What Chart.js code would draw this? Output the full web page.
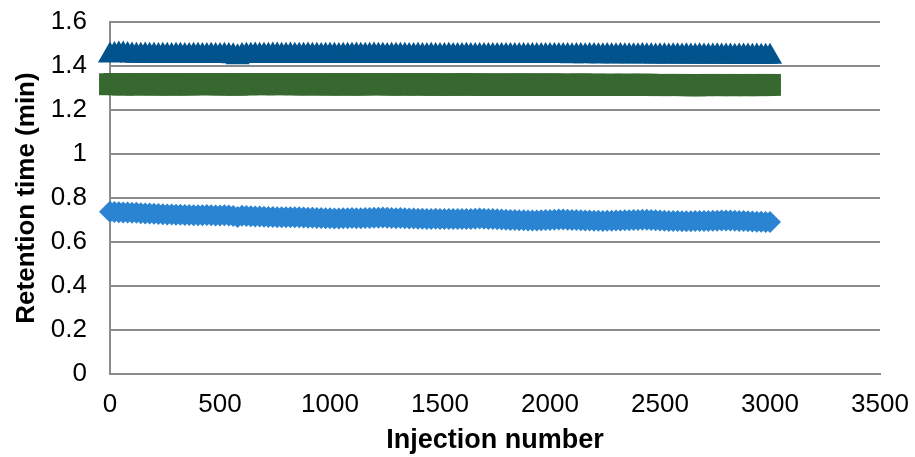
<!DOCTYPE html>
<html>
<head>
<meta charset="utf-8">
<script src="https://cdn.jsdelivr.net/npm/chart.js@4/dist/chart.umd.min.js"></script>
<style>
    body { margin: 0; background: #fff; }
    #chart { display: block; }
</style>
</head>
<body>
<canvas id="chart" width="915" height="457"></canvas>
<script>
// injection numbers, one sample every 20 injections
var injectionStep = 20;
var injections = [];
for (let i = 0; i <= 3000; i += injectionStep) {
    injections.push(i);
}

// retention times (min), one row = 200 injections
var peakTriangle = [
    1.448, 1.450, 1.452, 1.452, 1.450, 1.448, 1.447, 1.447, 1.448, 1.447,
    1.447, 1.446, 1.447, 1.447, 1.446, 1.447, 1.447, 1.446, 1.446, 1.447,
    1.447, 1.446, 1.446, 1.447, 1.446, 1.446, 1.447, 1.446, 1.444, 1.440,
    1.446, 1.447, 1.447, 1.448, 1.447, 1.447, 1.447, 1.448, 1.448, 1.447,
    1.447, 1.448, 1.447, 1.447, 1.447, 1.448, 1.447, 1.447, 1.446, 1.447,
    1.447, 1.447, 1.446, 1.447, 1.447, 1.447, 1.448, 1.447, 1.447, 1.447,
    1.448, 1.447, 1.447, 1.446, 1.447, 1.447, 1.447, 1.447, 1.446, 1.446,
    1.447, 1.446, 1.446, 1.447, 1.446, 1.446, 1.446, 1.447, 1.446, 1.446,
    1.446, 1.447, 1.446, 1.446, 1.445, 1.446, 1.446, 1.446, 1.445, 1.446,
    1.446, 1.445, 1.445, 1.446, 1.445, 1.445, 1.446, 1.445, 1.445, 1.445,
    1.445, 1.446, 1.445, 1.445, 1.445, 1.444, 1.445, 1.445, 1.444, 1.445,
    1.445, 1.444, 1.444, 1.445, 1.444, 1.444, 1.445, 1.444, 1.444, 1.444,
    1.444, 1.445, 1.444, 1.444, 1.443, 1.444, 1.444, 1.443, 1.444, 1.444,
    1.443, 1.444, 1.443, 1.443, 1.444, 1.443, 1.443, 1.443, 1.444, 1.443,
    1.443, 1.443, 1.442, 1.443, 1.443, 1.443, 1.442, 1.443, 1.442, 1.442,
    1.442
];

var peakSquare = [
    1.317, 1.318, 1.317, 1.316, 1.317, 1.317, 1.316, 1.317, 1.318, 1.317,
    1.316, 1.316, 1.317, 1.317, 1.316, 1.316, 1.317, 1.317, 1.316, 1.317,
    1.317, 1.318, 1.318, 1.317, 1.317, 1.316, 1.317, 1.317, 1.316, 1.315,
    1.317, 1.317, 1.318, 1.318, 1.317, 1.317, 1.318, 1.318, 1.317, 1.317,
    1.318, 1.318, 1.317, 1.317, 1.316, 1.317, 1.317, 1.318, 1.317, 1.316,
    1.316, 1.317, 1.317, 1.316, 1.316, 1.317, 1.317, 1.316, 1.316, 1.317,
    1.318, 1.318, 1.317, 1.316, 1.316, 1.317, 1.316, 1.316, 1.317, 1.317,
    1.316, 1.316, 1.317, 1.316, 1.315, 1.316, 1.316, 1.316, 1.315, 1.316,
    1.316, 1.317, 1.316, 1.316, 1.315, 1.315, 1.316, 1.316, 1.315, 1.315,
    1.315, 1.316, 1.316, 1.315, 1.315, 1.316, 1.316, 1.315, 1.315, 1.315,
    1.316, 1.316, 1.315, 1.315, 1.314, 1.315, 1.315, 1.316, 1.315, 1.315,
    1.315, 1.314, 1.314, 1.315, 1.315, 1.314, 1.314, 1.315, 1.315, 1.314,
    1.314, 1.315, 1.315, 1.314, 1.314, 1.313, 1.314, 1.314, 1.313, 1.314,
    1.314, 1.313, 1.313, 1.312, 1.313, 1.313, 1.314, 1.314, 1.313, 1.313,
    1.314, 1.313, 1.313, 1.314, 1.313, 1.313, 1.314, 1.313, 1.313, 1.314,
    1.314
];

var peakDiamond = [
    0.738, 0.736, 0.735, 0.734, 0.734, 0.733, 0.733, 0.731, 0.730, 0.729,
    0.728, 0.727, 0.726, 0.725, 0.725, 0.724, 0.724, 0.723, 0.723, 0.722,
    0.722, 0.722, 0.723, 0.722, 0.721, 0.721, 0.722, 0.721, 0.718, 0.714,
    0.719, 0.718, 0.717, 0.716, 0.716, 0.715, 0.714, 0.714, 0.713, 0.713,
    0.712, 0.712, 0.713, 0.712, 0.711, 0.710, 0.710, 0.709, 0.709, 0.708,
    0.708, 0.707, 0.707, 0.708, 0.708, 0.709, 0.708, 0.708, 0.709, 0.709,
    0.710, 0.710, 0.711, 0.710, 0.709, 0.708, 0.709, 0.708, 0.707, 0.707,
    0.706, 0.706, 0.705, 0.705, 0.706, 0.705, 0.704, 0.704, 0.705, 0.705,
    0.704, 0.705, 0.705, 0.706, 0.707, 0.706, 0.705, 0.704, 0.703, 0.702,
    0.701, 0.700, 0.700, 0.699, 0.699, 0.698, 0.698, 0.698, 0.699, 0.700,
    0.700, 0.701, 0.702, 0.702, 0.701, 0.700, 0.700, 0.699, 0.698, 0.698,
    0.697, 0.697, 0.696, 0.697, 0.697, 0.698, 0.698, 0.699, 0.699, 0.700,
    0.700, 0.701, 0.701, 0.700, 0.699, 0.698, 0.697, 0.696, 0.695, 0.695,
    0.694, 0.694, 0.694, 0.695, 0.695, 0.696, 0.696, 0.697, 0.697, 0.698,
    0.698, 0.698, 0.697, 0.696, 0.695, 0.694, 0.693, 0.692, 0.692, 0.691,
    0.691
];

var xTitle = "Injection number";
var yTitle = "Retention time (min)";

let toPoints = function (values) {
    let pts = [];
    for (let i = 0; i < values.length; i++) {
        pts.push({ x: injections[i], y: values[i] });
    }
    return pts;
}

let makeSeries = function (values, style, radius, color) {
    return {
        data: toPoints(values),
        pointStyle: style,
        pointRadius: radius,
        pointHoverRadius: radius,
        pointBorderWidth: 0,
        backgroundColor: color,
        borderColor: color,
        showLine: false,
        clip: false
    };
}

let gridColor = "#8c8c8c";
let tickFont = { family: "Liberation Sans, Arial", size: 26 };

new Chart(document.getElementById("chart"), {
    type: "scatter",
    data: {
        datasets: [
            makeSeries(peakTriangle, "triangle", 14, "#00538c"),
            makeSeries(peakSquare, "rect", 15.5, "#376830"),
            makeSeries(peakDiamond, "rectRot", 11, "#2a84d2")
        ]
    },
    options: {
        responsive: false,
        devicePixelRatio: 1,
        animation: false,
        layout: { padding: { top: 22, right: 35, left: 0, bottom: 0 } },
        plugins: {
            legend: { display: false },
            tooltip: { enabled: false }
        },
        scales: {
            x: {
                type: "linear",
                min: 0,
                max: 3500,
                afterFit: function (scale) {
                    // plot edges are set by layout padding, not by label overhang
                    scale.height = 83;
                    scale.paddingLeft = 0;
                    scale.paddingRight = 0;
                },
                ticks: {
                    stepSize: 500,
                    padding: 15,
                    color: "#000",
                    font: tickFont,
                    callback: function (v) { return v; }
                },
                grid: { display: true, color: "transparent", drawTicks: false },
                border: { display: true, color: gridColor, width: 2 },
                title: {
                    display: true,
                    text: xTitle,
                    color: "#000",
                    padding: { top: 0, bottom: 0 },
                    font: { family: "Liberation Sans, Arial", size: 27, weight: "bold" }
                }
            },
            y: {
                min: 0,
                max: 1.6,
                afterFit: function (scale) {
                    scale.width = 110;
                    scale.paddingTop = 0;
                    scale.paddingBottom = 0;
                },
                ticks: {
                    stepSize: 0.2,
                    padding: 23,
                    color: "#000",
                    font: tickFont,
                    callback: function (v) { return String(Math.round(v * 10) / 10); }
                },
                grid: { color: gridColor, lineWidth: 2, drawTicks: false },
                border: { display: true, color: gridColor, width: 2 },
                title: {
                    display: true,
                    text: yTitle,
                    color: "#000",
                    padding: { top: 11, bottom: 0 },
                    font: { family: "Liberation Sans, Arial", size: 26, weight: "bold" }
                }
            }
        }
    }
});
</script>
</body>
</html>
